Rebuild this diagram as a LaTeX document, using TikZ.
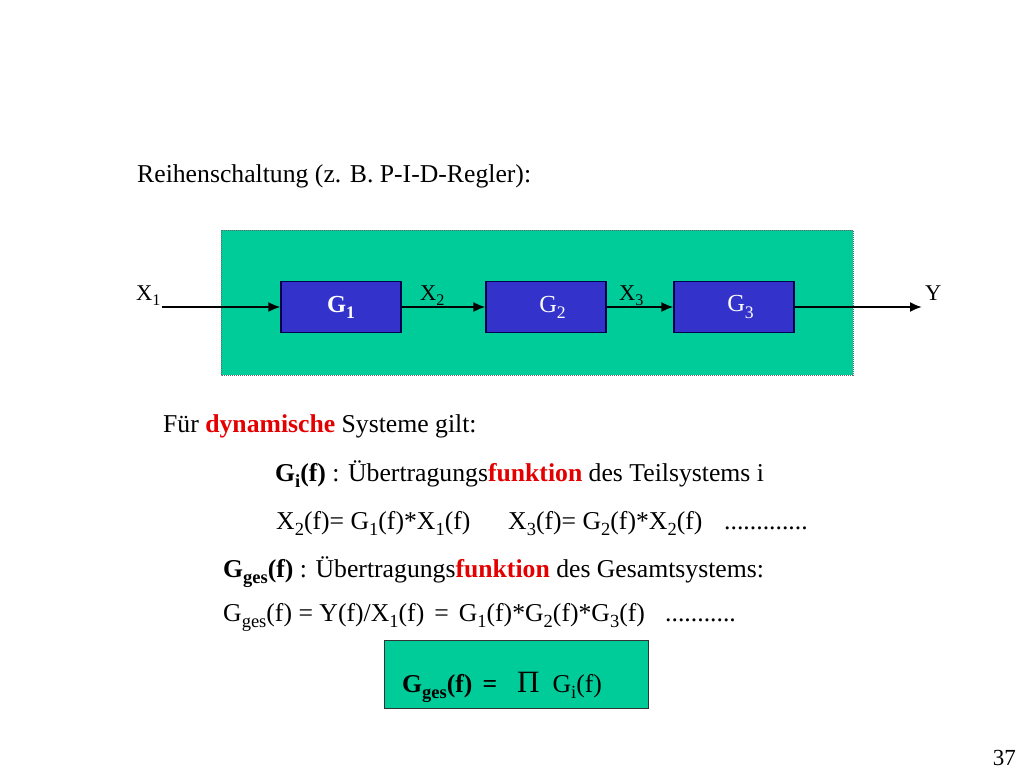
\documentclass[tikz,border=0pt]{standalone}
\usepackage{fontspec}
\setmainfont{Liberation Serif}
\usepackage{tikz}
\usetikzlibrary{arrows.meta}
\definecolor{panelgreen}{RGB}{0,204,153}
\definecolor{blockblue}{RGB}{51,51,204}
\definecolor{hired}{RGB}{228,0,0}
\newcommand{\lo}[1]{\raisebox{-.25em}{\scalebox{.72}{#1}}}
\newcommand{\hl}[1]{\textbf{\textcolor{hired}{#1}}}

\begin{document}
\begin{tikzpicture}[x=1pt,y=-1pt,
  txt/.style={anchor=base west,inner sep=0pt,font=\fontsize{25.7}{30}\selectfont},
  lbl/.style={anchor=base west,inner sep=0pt,font=\fontsize{22.5}{26}\selectfont},
  block/.style={draw=black!70!blue,line width=1.2pt,fill=blockblue,text=white,minimum width=120pt,minimum height=51pt,inner sep=0pt,font=\fontsize{24.5}{28}\selectfont},
  sig/.style={line width=2pt,-{Latex[length=12pt,width=10pt]}}]
\useasboundingbox (0,0) rectangle (1024,768);
%heading
\node[txt] (head) at (137,182) {Reihenschaltung (z. B. P-I-D-Regler):};
%green panel
\fill[panelgreen] (221,230) rectangle (853,375);
\draw[black!60,densely dotted,line width=1pt] (221,230) rectangle (853,375);
%blocks
\node[block] (g1) at (341,307) {\textbf{G\lo{1}}};
\node[block] (g2) at (546,307) {\hspace*{13pt}G\lo{2}};
\node[block] (g3) at (734,307) {\hspace*{13pt}G\lo{3}};
%signals
\coordinate (xin) at (162,307);
\coordinate (yout) at (922,307);
\draw[sig] (xin) -- (g1);
\draw[sig] (g1) -- (g2);
\draw[sig] (g2) -- (g3);
\draw[sig] (g3) -- (yout);
\node[lbl] (x1) at (136,300) {X\lo{1}};
\node[lbl] (x2) at (420,300) {X\lo{2}};
\node[lbl] (x3) at (619,300) {X\lo{3}};
\node[lbl] (y) at (925,300) {Y};
%text below
\node[txt] (dyn) at (163,432) {Für \hl{dynamische} Systeme gilt:};
\node[txt] (gi) at (275,481) {\textbf{G\lo{i}(f)} : Übertragungs\hl{funktion} des Teilsystems i};
\node[txt] (eqa) at (276,529) {X\lo{2}(f)= G\lo{1}(f)*X\lo{1}(f)};
\node[txt] (eqb) at (508,529) {X\lo{3}(f)= G\lo{2}(f)*X\lo{2}(f)};
\node[txt] (dotsa) at (724,529) {.............};
\node[txt] (gges) at (223,577) {\textbf{G\lo{ges}(f)} : Übertragungs\hl{funktion} des Gesamtsystems:};
\node[txt] (eqc) at (223,621) {G\lo{ges}(f) = Y(f)/X\lo{1}(f)\hspace{10pt}=\hspace{10pt}G\lo{1}(f)*G\lo{2}(f)*G\lo{3}(f)};
\node[txt] (dotsb) at (665,621) {...........};
%result box
\node[draw=black!80,line width=1pt,fill=panelgreen,minimum width=264pt,minimum height=68pt] (res) at (516,674) {};
\node[txt] (prod) at (402,692) {\textbf{G\lo{ges}(f)}\hspace{10pt}\textbf{=}\hspace{20pt}{\fontsize{31}{31}\selectfont Π}\hspace{13pt}G\lo{i}(f)};
%page number
\node[txt,anchor=base east,font=\fontsize{23}{26}\selectfont] (page) at (1016,765) {37};
\end{tikzpicture}
\end{document}
